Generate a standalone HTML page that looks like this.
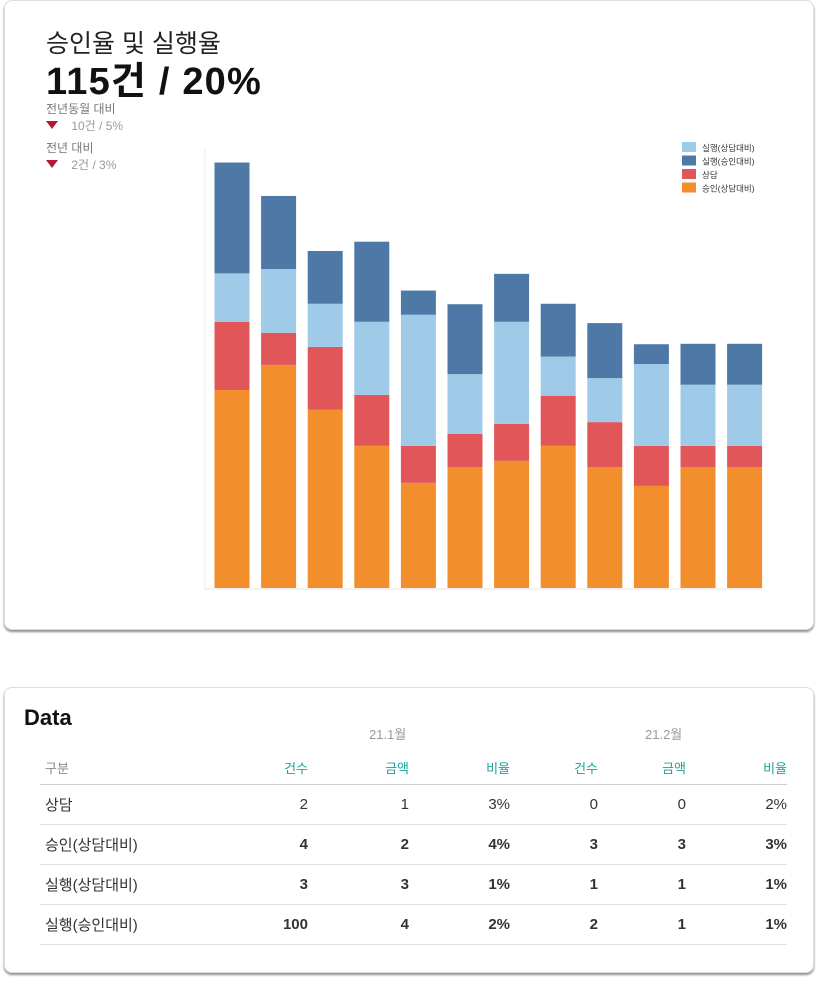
<!DOCTYPE html>
<html><head><meta charset="utf-8">
<style>
body{margin:0;width:818px;height:986px;background:#fff;font-family:"Liberation Sans","Noto Sans CJK KR",sans-serif;position:relative;overflow:hidden}
.card{position:absolute;left:4px;width:808px;background:#fff;border:1px solid #ddd;border-radius:8px;box-shadow:0 2px 2px rgba(0,0,0,0.45)}
.abs{position:absolute;white-space:nowrap}
table{position:absolute;left:40px;top:750px;width:747px;border-collapse:collapse;font-size:15px;color:#333}
td{height:39px;border-bottom:1px solid #e2e2e2;text-align:right;padding:0}
td:first-child{text-align:left;padding-left:5px}
tr.h td{height:34px;font-size:13px;color:#1aa39a;border-bottom:1px solid #cfcfcf}
tr.h td:first-child{color:#888}
b{font-weight:bold}
.tri{display:inline-block;width:0;height:0;border-left:6px solid transparent;border-right:6px solid transparent;border-top:8px solid #b5173a;vertical-align:1px}
</style></head><body>
<div class="card" style="top:0;height:628px"></div>
<div class="abs" style="left:46px;top:24px;font-size:25px;color:#222">승인율 및 실행율</div>
<div class="abs" style="left:46px;top:50px;font-size:38px;font-weight:bold;color:#111;letter-spacing:1.2px">115건 / 20%</div>
<div class="abs" style="left:46px;top:100px;font-size:12px;color:#777">전년동월 대비</div>
<div class="abs" style="left:46px;top:117px;font-size:12px;color:#999"><span class="tri"></span>&nbsp;&nbsp;&nbsp;&nbsp;10건 / 5%</div>
<div class="abs" style="left:46px;top:139px;font-size:12px;color:#777">전년 대비</div>
<div class="abs" style="left:46px;top:156px;font-size:12px;color:#999"><span class="tri"></span>&nbsp;&nbsp;&nbsp;&nbsp;2건 / 3%</div>
<svg id="chart" width="818" height="630" style="position:absolute;left:0;top:0"></svg>

<div class="card" style="top:687px;height:284px"></div>
<div class="abs" style="left:24px;top:705px;font-size:22px;font-weight:bold;color:#111">Data</div>
<div class="abs" style="left:369px;top:724px;font-size:13px;color:#999">21.1월</div>
<div class="abs" style="left:645px;top:724px;font-size:13px;color:#999">21.2월</div>
<table>
<colgroup><col style="width:160px"><col style="width:108px"><col style="width:101px"><col style="width:101px"><col style="width:88px"><col style="width:88px"><col style="width:101px"></colgroup>
<tr class="h"><td>구분</td><td>건수</td><td>금액</td><td>비율</td><td>건수</td><td>금액</td><td>비율</td></tr>
<tr><td>상담</td><td>2</td><td>1</td><td>3%</td><td>0</td><td>0</td><td>2%</td></tr>
<tr><td>승인(상담대비)</td><td><b>4</b></td><td><b>2</b></td><td><b>4%</b></td><td><b>3</b></td><td><b>3</b></td><td><b>3%</b></td></tr>
<tr><td>실행(상담대비)</td><td><b>3</b></td><td><b>3</b></td><td><b>1%</b></td><td><b>1</b></td><td><b>1</b></td><td><b>1%</b></td></tr>
<tr><td>실행(승인대비)</td><td><b>100</b></td><td><b>4</b></td><td><b>2%</b></td><td><b>2</b></td><td><b>1</b></td><td><b>1%</b></td></tr>
</table>
<script>
const categories=["1","2","3","4","5","6","7","8","9","10","11","12"];
const approval=[45,50.7,40.5,32.3,23.9,27.5,28.9,32.3,27.5,23.2,27.5,27.5];
const consult=[15.5,7.3,14.3,11.6,8.4,7.5,8.4,11.4,10.2,9.1,4.8,4.8];
const execConsult=[11,14.5,9.8,16.6,29.8,13.6,23.2,8.9,10,18.6,13.9,13.9];
const execApproval=[25.2,16.6,12,18.2,5.5,15.9,10.9,12,12.5,4.5,9.3,9.3];
const seriesNames=["승인(상담대비)","상담","실행(상담대비)","실행(승인대비)"];
const NS="http://www.w3.org/2000/svg";
const svg=document.getElementById('chart');
const x0=214.5,step=46.6,bw=35,base=588,ymax=100,ph=440;
const y=v=>v/ymax*ph;
function mk(t,a){const e=document.createElementNS(NS,t);for(const k in a)e.setAttribute(k,a[k]);svg.appendChild(e);return e;}
let ax=mk('line',{x1:205,y1:148,x2:205,y2:590,stroke:'#eee'});


let bx=mk('line',{x1:205,y1:589,x2:762,y2:589,stroke:'#e6e6e6'});


const series=[approval,consult,execConsult,execApproval];
const colors=["#f28e2c","#e15759","#a0cbe8","#4e79a7"];
const keys=["approval","consult","exec-consult","exec-approval"];
categories.forEach((c,i)=>{
  let acc=0;
  series.forEach((s,j)=>{
    const h=y(s[i]);
    const r=mk('rect',{x:x0+i*step,y:base-y(acc)-h,width:bw,height:h,fill:colors[j]});
    
    
    acc+=s[i];
  });
});
const lorder=[2,3,1,0];
lorder.forEach((j,k)=>{
  const r=mk('rect',{x:682,y:142+k*13.5,width:14,height:10,fill:colors[j]});
  
  
  const t=mk('text',{x:702,y:151+k*13.5,'font-size':8.5,fill:'#333'});
  t.textContent=seriesNames[j];
  
  
});
</script>
</body></html>
